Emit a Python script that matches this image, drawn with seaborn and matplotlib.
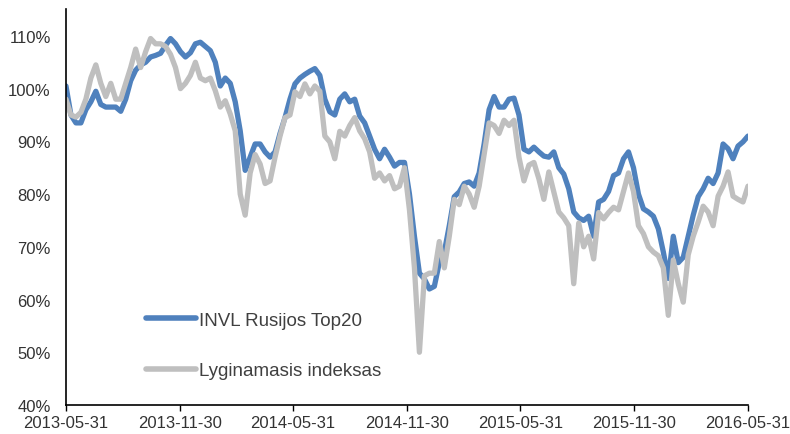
import pandas as pd
import matplotlib
matplotlib.use("Agg")
import matplotlib.pyplot as plt
import matplotlib.dates as mdates
from matplotlib.ticker import FuncFormatter
import seaborn as sns

# observations every 8 days, 2013-05-31 .. 2016-05-31
start_date = "2013-05-31"
end_date = "2016-05-31"
step = "8D"

invl_top20 = [
    100.5, 95, 93.5, 93.5, 96, 97.5, 99.5, 97, 96.5, 96.5,
    96.5, 95.7, 98, 101.5, 103.5, 104.5, 105, 106, 106.3, 106.7,
    108.2, 109.5, 108.5, 107, 106, 106.8, 108.5, 108.8, 108, 107.2,
    105, 100.5, 102, 101, 97.5, 92, 84.5, 87, 89.5, 89.5,
    88, 87, 88, 91.5, 94.5, 98, 100.9, 102, 102.7, 103.3,
    103.8, 102.5, 98, 95.6, 95, 98, 99, 97.5, 98, 94.8,
    93.5, 91, 88.5, 86.7, 88.5, 87, 85.3, 86, 86, 80,
    72, 65, 63.9, 62, 62.5, 67, 69, 74, 79.5, 80.4,
    82, 82.3, 81.5, 84, 89.5, 96, 98.5, 96.5, 96.5, 98,
    98.2, 95, 88.5, 88, 88.9, 88, 87.2, 87, 88, 85,
    83.8, 81, 76.6, 75.5, 75, 75.8, 72, 78.5, 79, 80.5,
    83.5, 84, 86.7, 88, 85, 80, 77.2, 76.6, 75.8, 73.4,
    69, 64, 72, 67, 68, 72, 76, 79.5, 81, 83,
    82, 84, 89.5, 88.6, 86.7, 89.1, 89.9, 91,
]

benchmark = [
    98, 95, 94.6, 95.5, 98, 102, 104.5, 101, 98.5, 101,
    98, 98, 101, 104, 107.5, 104, 107, 109.5, 108.5, 108.5,
    108, 106.5, 104, 100, 101, 102.5, 105, 102, 101.5, 102,
    99.6, 96.5, 97.7, 95.2, 92, 80, 76, 84, 87.5, 85.7,
    82, 82.5, 87, 91, 94.5, 95, 99.4, 98.5, 100.9, 99,
    100.5, 99.5, 91, 89.9, 86.7, 91.9, 91, 93, 94.5, 92,
    90.5, 88, 83, 84, 82.5, 83.5, 81, 81.5, 85, 77,
    66, 50, 64.5, 65, 65, 71, 66, 72, 79, 78,
    81.5, 80, 77.5, 81.5, 87.5, 93.5, 93, 91.5, 94, 93,
    94, 87, 82.5, 85.5, 86, 82.9, 79, 84.2, 80.4, 76.6,
    75.5, 74, 63, 74.5, 70, 72, 67.7, 76.5, 75.3, 76.5,
    77.5, 77, 80.5, 84, 80.5, 74, 72.5, 70, 69, 68.3,
    66, 57, 67.5, 63, 59.5, 68.5, 72, 74.7, 77.7, 76.6,
    74, 79.6, 81.5, 84.2, 79.6, 79, 78.5, 81.5,
]

series_names = ["INVL Rusijos Top20", "Lyginamasis indeksas"]
series_colors = ["#4F81BD", "#BFBFBF"]
tick_dates = ["2013-05-31", "2013-11-30", "2014-05-31", "2014-11-30",
              "2015-05-31", "2015-11-30", "2016-05-31"]
y_ticks = [40, 50, 60, 70, 80, 90, 100, 110]

dates = pd.date_range(start_date, end_date, freq=step)
df = pd.concat([
    pd.DataFrame({"date": dates, "value": invl_top20, "series": series_names[0]}),
    pd.DataFrame({"date": dates, "value": benchmark, "series": series_names[1]}),
])

sns.set_style("white")
plt.rcParams["font.family"] = ["Liberation Sans", "DejaVu Sans"]

fig = plt.figure(figsize=(7.9, 4.35), dpi=100)
ax = fig.add_axes([0.0835, 0.0667, 0.8633, 0.9103])

sns.lineplot(data=df, x="date", y="value", hue="series", hue_order=series_names,
             palette=dict(zip(series_names, series_colors)), linewidth=3.8,
             ax=ax)

ax.set_xlim(pd.Timestamp(start_date), pd.Timestamp(end_date))
ax.set_ylim(40, 115.1)
ax.set_xticks(pd.to_datetime(tick_dates))
ax.xaxis.set_major_formatter(mdates.DateFormatter("%Y-%m-%d"))
ax.set_yticks(y_ticks)
ax.yaxis.set_major_formatter(FuncFormatter(lambda v, p: f"{v:.0f}%"))
ax.set_xlabel("")
ax.set_ylabel("")

for side in ["top", "right"]:
    ax.spines[side].set_visible(False)
for side in ["left", "bottom"]:
    ax.spines[side].set_color("black")
    ax.spines[side].set_linewidth(1.2)

ax.tick_params(axis="x", direction="out", length=4, width=1, color="black",
               labelsize=12, labelcolor="#333333", pad=3, bottom=True)
ax.tick_params(axis="y", length=0, labelsize=12, labelcolor="#333333", pad=11)

leg = ax.legend(loc="lower left", bbox_to_anchor=(0.092, 0.022), frameon=False,
                fontsize=13.5, labelspacing=1.8, handlelength=2.7,
                handletextpad=0.15, labelcolor="#404040")
for line in leg.get_lines():
    line.set_linewidth(4)

fig.savefig("out.png", dpi=100)
